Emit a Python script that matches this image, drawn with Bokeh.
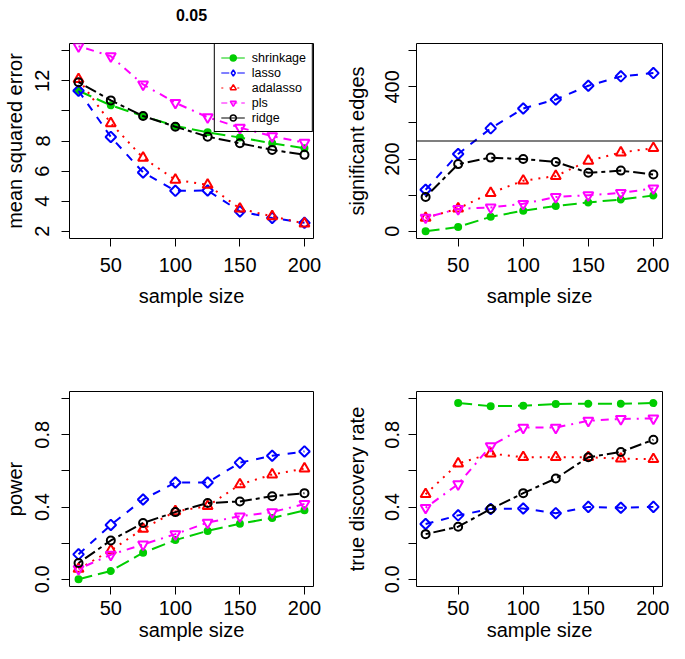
import math
from bokeh.plotting import figure
from bokeh.models import Range1d, FixedTicker, Legend, LegendItem, Span, PrintfTickFormatter, LinearAxis
from bokeh.layouts import gridplot
from bokeh.embed import file_html
from bokeh.resources import INLINE

FONT = "Liberation Sans"
NaN = float("nan")

# ---------------- data ----------------
sample_size = [25, 50, 75, 100, 125, 150, 175, 200]
methods = ["shrinkage", "lasso", "adalasso", "pls", "ridge"]

mse_shrinkage = [11.34, 10.37, 9.66, 9.00, 8.58, 8.23, 7.85, 7.52]
mse_lasso = [11.34, 8.27, 5.91, 4.69, 4.71, 3.32, 2.89, 2.56]
mse_adalasso = [12.11, 9.18, 6.88, 5.42, 5.09, 3.50, 2.99, 2.51]
mse_pls = [14.30, 13.64, 11.76, 10.54, 9.58, 8.89, 8.32, 7.89]
mse_ridge = [11.91, 10.70, 9.66, 8.95, 8.29, 7.85, 7.41, 7.08]

edges_shrinkage = [0, 12, 40, 57, 70, 80, 88, 99]
edges_lasso = [115, 214, 285, 340, 365, 403, 429, 438]
edges_adalasso = [37, 63, 106, 140, 153, 195, 218, 230]
edges_pls = [38, 62, 66, 76, 95, 100, 106, 119]
edges_ridge = [95, 186, 204, 200, 192, 162, 168, 157]

power_shrinkage = [0.0, 0.046, 0.147, 0.217, 0.268, 0.308, 0.339, 0.382]
power_lasso = [0.138, 0.301, 0.442, 0.536, 0.536, 0.646, 0.684, 0.708]
power_adalasso = [0.057, 0.160, 0.279, 0.376, 0.405, 0.525, 0.580, 0.613]
power_pls = [0.057, 0.136, 0.193, 0.250, 0.314, 0.349, 0.372, 0.417]
power_ridge = [0.090, 0.215, 0.312, 0.372, 0.422, 0.431, 0.460, 0.477]

tdr_shrinkage = [NaN, 0.976, 0.959, 0.961, 0.971, 0.972, 0.972, 0.976]
tdr_lasso = [0.306, 0.354, 0.389, 0.392, 0.366, 0.401, 0.396, 0.401]
tdr_adalasso = [0.471, 0.641, 0.696, 0.676, 0.676, 0.676, 0.668, 0.665]
tdr_pls = [0.396, 0.527, 0.738, 0.840, 0.840, 0.878, 0.888, 0.891]
tdr_ridge = [0.250, 0.291, 0.389, 0.477, 0.558, 0.676, 0.705, 0.773]

x_ticks = [50, 100, 150, 200]
edges_ref_line = 250
title_text = "0.05"

# ---------------- styles ----------------
STYLE = {
    "shrinkage": dict(color="#00CD00", dash="14 6", legend_dash="solid", marker="circle", size=6,
                      filled=True, angle=0.0, lmarker="circle", lsize=5),
    "lasso": dict(color="#0000FF", dash="8 8", legend_dash="8 8", marker="square", size=7.5,
                  filled=False, angle=math.pi / 4, lmarker="diamond", lsize=10),
    "adalasso": dict(color="#FF0000", dash="2 6", legend_dash="2 6", marker="triangle", size=10,
                     filled=False, angle=0.0, lmarker="triangle", lsize=8.5),
    "pls": dict(color="#FF00FF", dash="2 6 8 6", legend_dash="6 4", marker="inverted_triangle", size=10,
                filled=False, angle=0.0, lmarker="inverted_triangle", lsize=8.5),
    "ridge": dict(color="#000000", dash="4 4 12 4", legend_dash="solid", marker="circle", size=8,
                  filled=False, angle=0.0, lmarker="circle", lsize=7),
}


def style_axis(ax, label, major_standoff, label_standoff):
    ax.axis_label = label
    ax.axis_line_color = None
    ax.major_tick_in = 0
    ax.major_tick_out = 8
    ax.minor_tick_in = 0
    ax.minor_tick_out = 8
    ax.major_tick_line_color = "black"
    ax.minor_tick_line_color = "black"
    ax.major_tick_line_width = 1
    ax.minor_tick_line_width = 1
    ax.major_label_text_font = FONT
    ax.major_label_text_font_size = "20px"
    ax.major_label_text_color = "black"
    ax.axis_label_text_font = FONT
    ax.axis_label_text_font_size = "20px"
    ax.axis_label_text_font_style = "normal"
    ax.axis_label_text_color = "black"
    ax.major_label_standoff = major_standoff
    ax.axis_label_standoff = label_standoff


def panel(series, ylabel, yrange, yticks, yminor, W, H, borders, ystand, xstand,
          fmt=None, title=None, legend=False, hline=None):
    left, right, top, bottom = borders
    p = figure(width=W, height=H, x_range=Range1d(18, 207), y_range=Range1d(*yrange),
               output_backend="svg", toolbar_location=None,
               min_border_left=left, min_border_right=right,
               min_border_top=top, min_border_bottom=bottom)
    p.background_fill_color = "white"
    p.border_fill_color = "white"
    p.outline_line_color = "black"
    p.outline_line_width = 1
    p.outline_line_alpha = 1
    p.xgrid.visible = False
    p.ygrid.visible = False
    p.xaxis.ticker = FixedTicker(ticks=x_ticks, minor_ticks=[])
    p.yaxis.ticker = FixedTicker(ticks=yticks, minor_ticks=yminor)
    if fmt is not None:
        p.yaxis.formatter = PrintfTickFormatter(format=fmt)
    style_axis(p.xaxis[0], "sample size", *xstand)
    style_axis(p.yaxis[0], ylabel, *ystand)
    p.yaxis.major_label_orientation = "parallel"

    if title:
        # panel title, drawn as the label of a tick-less axis above the plot box
        tax = LinearAxis(ticker=FixedTicker(ticks=[], minor_ticks=[]), axis_label=title)
        tax.axis_line_color = None
        tax.major_tick_out = 0
        tax.major_tick_in = 0
        tax.minor_tick_out = 0
        tax.minor_tick_in = 0
        tax.major_label_standoff = 0
        tax.axis_label_standoff = 23
        tax.axis_label_text_font = FONT
        tax.axis_label_text_font_size = "16px"
        tax.axis_label_text_font_style = "bold"
        tax.axis_label_text_color = "black"
        p.add_layout(tax, "above")

    if hline is not None:
        p.add_layout(Span(location=hline, dimension="width", line_color="black", line_width=1.2))

    for m in methods:
        s = STYLE[m]
        vals = series[m]
        p.line(sample_size, vals, line_color=s["color"], line_width=2, line_dash=s["dash"])
        p.scatter(sample_size, vals, marker=s["marker"], size=s["size"], angle=s["angle"],
                  line_color=s["color"], line_width=2,
                  fill_color=s["color"] if s["filled"] else None)

    if legend:
        items = []
        for m in methods:
            s = STYLE[m]
            lr = p.line([NaN], [NaN], line_color=s["color"], line_width=1, line_dash=s["legend_dash"])
            sr = p.scatter([NaN], [NaN], marker=s["lmarker"], size=s["lsize"],
                           line_color=s["color"], line_width=1.5,
                           fill_color=s["color"] if s["filled"] else None)
            items.append(LegendItem(label=m, renderers=[lr, sr]))
        lg = Legend(items=items, location="top_right", margin=0, padding=6, spacing=0,
                    glyph_width=24, glyph_height=15, label_height=15, label_standoff=7,
                    border_line_color="black", border_line_width=1, border_line_alpha=1,
                    background_fill_alpha=0,
                    label_text_font=FONT, label_text_font_size="12.5px", label_text_color="black")
        p.add_layout(lg)
    return p


mse = dict(shrinkage=mse_shrinkage, lasso=mse_lasso, adalasso=mse_adalasso, pls=mse_pls, ridge=mse_ridge)
edges = dict(shrinkage=edges_shrinkage, lasso=edges_lasso, adalasso=edges_adalasso, pls=edges_pls, ridge=edges_ridge)
power = dict(shrinkage=power_shrinkage, lasso=power_lasso, adalasso=power_adalasso, pls=power_pls, ridge=power_ridge)
tdr = dict(shrinkage=tdr_shrinkage, lasso=tdr_lasso, adalasso=tdr_adalasso, pls=tdr_pls, ridge=tdr_ridge)

# borders: (left, right, top, bottom)
p1 = panel(mse, "mean squared error", (1.52, 14.48), [2, 4, 6, 8, 12], [10, 14],
           340, 340, (68, 27, 43, 102), (12, 7), (11, 10), title=title_text, legend=True)
p2 = panel(edges, "significant edges", (-20, 520), [0, 200, 400], [100, 300, 500],
           329, 340, (76, 7, 43, 102), (9, 15), (11, 10), hline=edges_ref_line)
p3 = panel(power, "power", (-0.04, 1.04), [0.0, 0.4, 0.8], [0.2, 0.6, 1.0],
           340, 303, (68, 27, 51, 56), (12, 7), (6, 1), fmt="%.1f")
p4 = panel(tdr, "true discovery rate", (-0.04, 1.04), [0.0, 0.4, 0.8], [0.2, 0.6, 1.0],
           329, 303, (76, 7, 51, 56), (9, 15), (6, 1), fmt="%.1f")

grid = gridplot([[p1, p2], [p3, p4]], toolbar_location=None)

open("out.html", "w").write(file_html(grid, INLINE))
